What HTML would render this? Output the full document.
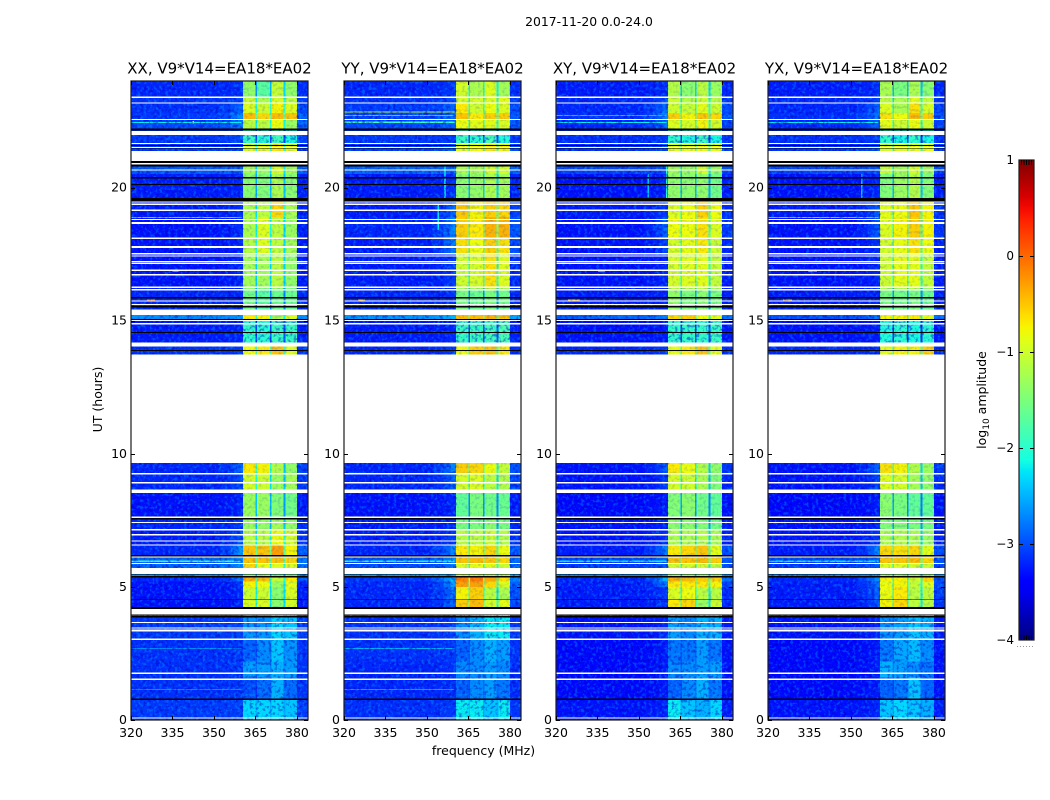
<!DOCTYPE html>
<html lang="en">
<head>
<meta charset="utf-8">
<title>2017-11-20 dynamic spectra</title>
<style>
html,body{margin:0;padding:0;background:#fff;width:1050px;height:800px;overflow:hidden}
svg{display:block}
text{font-family:"DejaVu Sans","Liberation Sans",sans-serif;fill:#000}
</style>
</head>
<body>
<svg id="chart" xmlns="http://www.w3.org/2000/svg" width="1050" height="800" viewBox="0 0 1050 800">
  <defs>
    <filter id="speckle-light" x="0" y="0" width="100%" height="100%" color-interpolation-filters="sRGB">
      <feTurbulence type="fractalNoise" baseFrequency="0.32" numOctaves="2" seed="4"/>
      <feColorMatrix type="matrix" values="0 0 0 0 0  0 0 0 0 0.72  0 0 0 0 1  5 0 0 0 -2.5"/>
    </filter>
    <filter id="speckle-dark" x="0" y="0" width="100%" height="100%" color-interpolation-filters="sRGB">
      <feTurbulence type="fractalNoise" baseFrequency="0.32" numOctaves="2" seed="11"/>
      <feColorMatrix type="matrix" values="0 0 0 0 0  0 0 0 0 0  0 0 0 0 0.72  5 0 0 0 -2.5"/>
    </filter>
    <linearGradient id="jet-gradient" x1="0" y1="1" x2="0" y2="0"></linearGradient>
  </defs>
  <text x="589" y="26" font-size="12.4" text-anchor="middle">2017-11-20 0.0-24.0</text>
  <g id="panels"></g>
  <text transform="translate(102,399.5) rotate(-90)" font-size="12.5" text-anchor="middle">UT (hours)</text>
  <text x="483.5" y="755" font-size="12.5" text-anchor="middle">frequency (MHz)</text>
  <g id="colorbar"></g>
  <text transform="translate(986,400) rotate(-90)" font-size="12.5" text-anchor="middle">log<tspan font-size="9" dy="3">10</tspan><tspan dy="-3"> amplitude</tspan></text>
  <line x1="1017" x2="1035" y1="646.5" y2="646.5" stroke="#9a9a9a" stroke-width="1" stroke-dasharray="1 2"></line>
</svg>
<script>
/* Categories */
const panelTitles = ["XX, V9*V14=EA18*EA02", "YY, V9*V14=EA18*EA02", "XY, V9*V14=EA18*EA02", "YX, V9*V14=EA18*EA02"];
const freqTicks = [320, 335, 350, 365, 380];
const timeTicks = [0, 5, 10, 15, 20];
const colorTicks = [1, 0, -1, -2, -3, -4];

/* Time bins in UT hours, bottom to top, each [start, end] */
const timeBins = [[0,0.8],[0.8,1.6],[1.6,2.2],[2.2,3.0],[3.0,3.97],[4.25,4.5],[4.5,5.0],[5.0,5.2],[5.2,5.4],[5.4,5.47],[5.7,5.87],[5.87,6.17],[6.17,6.6],[6.6,7.15],[7.15,7.55],[7.65,8.52],[8.66,9.25],[9.25,9.66],[13.72,14.02],[14.17,15.03],[15.03,15.22],[15.41,16.2],[16.2,17.5],[17.5,18.1],[18.1,18.9],[18.9,19.55],[19.55,20.5],[20.5,20.78],[21.37,21.65],[21.65,22.2],[22.2,22.55],[22.55,22.8],[22.8,23.17],[23.17,23.4],[23.4,24]];

/* Frequency segments in MHz */
const offBand = [320, 352];
const shoulderBand = [352, 356];
const rampLowBand = [356, 358.5];
const rampHighBand = [358.5, 360.5];
const subBands = [[360.5,365],[365.6,370.2],[370.8,375.1],[375.9,380]];
const gapBands = [[365,365.6],[370.2,370.8],[375.1,375.9]];
const upperBand = [380, 384];

/* log10 amplitude per time bin: [off-band, ramp, sub-band A, B, C, D] */
const levelsXX = [[-2.9,-2.85,-2.3,-2.3,-2.3,-2.4],[-2.95,-2.9,-3,-2.85,-2.5,-2.85],[-2.95,-2.9,-2.6,-2.6,-2.5,-2.6],[-2.95,-2.9,-2.9,-2.7,-2.4,-2.65],[-2.9,-2.85,-2.65,-2.65,-2.3,-2.4],[-3.1,-3,-.9,-.9,-1.4,-.95],[-3.1,-3,-1,-1,-1.4,-.9],[-3.1,-2.9,-.75,-.8,-1.3,-.85],[-3,-2.6,-.4,-.5,-1.05,-.7],[-2.45,-2.4,-1.5,-1.4,-1.7,-1.6],[-2.7,-2.5,-.6,-.8,-.9,-.9],[-2.7,-2.5,-.5,-.5,-.5,-.6],[-3,-2.45,-.5,-.5,-.3,-.75],[-3.05,-2.8,-1.1,-1.1,-.8,-.95],[-3,-2.9,-1.3,-1.35,-1.25,-1.35],[-3.1,-3,-1.3,-1.3,-1.45,-1.55],[-3,-2.8,-.95,-1,-1.3,-1.25],[-3,-2.7,-.7,-.75,-1.15,-1.35],[-2.95,-2.9,-.8,-.7,-.5,-.9],[-3.05,-3,-1.95,-2,-1.9,-1.9],[-2.5,-2.45,-.7,-.75,-1.2,-.9],[-3,-3,-1.55,-1.7,-1.6,-1.6],[-3.1,-3,-1.25,-1.25,-1.1,-1.35],[-3.1,-3,-1.15,-.9,-1.1,-1.25],[-3.1,-2.95,-1.2,-.9,-1.1,-1.3],[-3.05,-2.95,-1.2,-1.1,-.6,-1.2],[-3.05,-3,-1.4,-1.45,-1.2,-1.4],[-2.75,-2.7,-1.25,-1.3,-.95,-1.25],[-2.9,-2.9,-.95,-.9,-.7,-.9],[-2.9,-2.8,-1.9,-2,-1.85,-2.1],[-2.85,-2.6,-1.1,-1.1,-.8,-1.3],[-2.9,-2.5,-.45,-.6,-.45,-.5],[-2.95,-2.7,-.9,-1,-.75,-.9],[-2.95,-2.85,-1,-1.2,-.9,-1.1],[-3,-2.95,-1.35,-1.7,-1.05,-1.35]];
const levelsYY = [[-2.95,-2.9,-2.2,-2.2,-2.4,-2.2],[-3,-2.95,-2.9,-2.7,-2.6,-2.8],[-3,-2.95,-2.7,-2.7,-2.6,-2.7],[-2.95,-2.9,-2.9,-2.7,-2.5,-2.6],[-2.95,-2.85,-2.7,-2.5,-2.2,-2.2],[-3,-2.7,-.55,-.45,-.95,-.85],[-3,-2.6,-.75,-.55,-1.1,-1.2],[-3,-2.4,-.3,-.3,-.6,-.9],[-2.9,-2.2,-.15,-.1,-.35,-.65],[-2.4,-2.3,-1.1,-1.1,-1.2,-1.2],[-2.8,-2.6,-.9,-.85,-.85,-1],[-2.8,-2.5,-.5,-.45,-.5,-.6],[-3,-2.5,-.7,-.75,-.6,-.8],[-3.05,-2.9,-1.1,-1.1,-1,-1.15],[-3.05,-3,-1.5,-1.5,-1.4,-1.5],[-3.1,-3,-1.65,-1.5,-1.55,-1.6],[-3,-2.7,-.95,-.9,-1.1,-1.15],[-3,-2.55,-.55,-.6,-.8,-1.05],[-3,-2.9,-.8,-.55,-.5,-.7],[-3.05,-3,-1.9,-1.9,-1.85,-1.8],[-2.45,-2.3,-.45,-.45,-.4,-.5],[-3,-2.95,-1.5,-1.6,-1.5,-1.55],[-3.05,-2.9,-1,-.95,-.65,-.9],[-3.05,-2.55,-.65,-.8,-.55,-.65],[-3,-2.55,-.55,-.7,-.4,-.4],[-3.05,-2.7,-.5,-.75,-.55,-.6],[-3.05,-2.95,-1.4,-1.35,-1.2,-1.25],[-2.7,-2.7,-1.2,-1.2,-.95,-1],[-2.9,-2.7,-.9,-.8,-.7,-.75],[-2.9,-2.9,-1.9,-2,-1.8,-2.05],[-2.85,-2.7,-.8,-.85,-.85,-.9],[-2.85,-2.65,-.5,-.7,-.55,-.55],[-2.9,-2.7,-.7,-1,-.8,-.9],[-2.95,-2.8,-.95,-.95,-.9,-.85],[-3,-2.9,-.95,-1.2,-.9,-1.25]];
const levelsXY = [[-3.1,-3,-2.2,-2.4,-2.5,-2.3],[-3.15,-3.05,-2.9,-2.7,-2.5,-2.8],[-3.15,-3.05,-2.7,-2.7,-2.6,-2.6],[-3.15,-3.05,-2.8,-2.8,-2.6,-2.8],[-3.1,-3,-2.6,-2.7,-2.5,-2.5],[-3.05,-2.9,-.7,-.6,-1.3,-1],[-3.05,-2.9,-.9,-.8,-1.1,-1.1],[-3.05,-2.6,-.7,-.7,-.7,-.75],[-3,-2.3,-.4,-.45,-.55,-.55],[-2.5,-2.4,-1.4,-1.4,-1.4,-1.4],[-2.9,-2.7,-.95,-.95,-.95,-1.05],[-2.85,-2.65,-.5,-.5,-.45,-.55],[-3.05,-2.55,-.7,-.6,-.5,-.85],[-3.1,-2.95,-1.2,-1.2,-1.15,-1.2],[-3.1,-3,-1.4,-1.4,-1.45,-1.55],[-3.15,-3.05,-1.45,-1.4,-1.55,-1.65],[-3.1,-2.9,-.95,-1,-1.2,-1.45],[-3.1,-2.75,-.7,-.8,-1.15,-1.35],[-3,-2.9,-.85,-.7,-.5,-.85],[-3.1,-3.05,-1.95,-1.95,-1.95,-1.9],[-2.7,-2.55,-.6,-.55,-.8,-.85],[-3.05,-3,-1.35,-1.5,-1.4,-1.5],[-3.1,-3,-.95,-.9,-.85,-1.05],[-3.1,-2.85,-.95,-.85,-.7,-1],[-3.1,-2.7,-.8,-.8,-.65,-.9],[-3.05,-2.9,-.9,-.8,-.55,-.8],[-3.1,-3,-1.35,-1.4,-1.35,-1.55],[-2.85,-2.8,-1.25,-1.3,-.95,-1.3],[-2.95,-2.8,-.9,-.9,-.8,-.85],[-2.95,-2.9,-1.95,-2.05,-1.9,-2.1],[-3,-2.7,-.9,-.95,-.75,-.95],[-2.95,-2.55,-.55,-.75,-.5,-.6],[-3,-2.65,-1,-1.05,-.85,-1],[-3,-2.8,-1,-1.15,-1,-1.1],[-3.05,-2.95,-1.15,-1.4,-1.1,-1.3]];
const levelsYX = [[-3.1,-3,-2.4,-2.3,-2.4,-2.5],[-3.15,-3.05,-2.9,-2.8,-2.4,-2.9],[-3.15,-3.05,-2.5,-2.6,-2.7,-2.8],[-3.15,-3.05,-2.8,-2.55,-2.45,-2.7],[-3.1,-3,-2.7,-2.6,-2.4,-2.5],[-3.05,-2.8,-.75,-.6,-1.1,-1.1],[-3.05,-2.7,-.8,-.7,-1.1,-1.05],[-3.05,-2.6,-.8,-.75,-1.05,-.9],[-3,-2.5,-.75,-.75,-.95,-.6],[-2.5,-2.4,-1.4,-1.4,-1.4,-1.4],[-2.9,-2.75,-.9,-.9,-.95,-1],[-2.85,-2.7,-.5,-.5,-.45,-.6],[-3.05,-2.55,-.6,-.65,-.6,-.85],[-3.1,-2.95,-1.2,-1.15,-1.2,-1.3],[-3.1,-3,-1.45,-1.45,-1.5,-1.5],[-3.15,-3.05,-1.4,-1.5,-1.65,-1.65],[-3.1,-2.85,-.9,-.95,-1.25,-1.35],[-3.1,-2.7,-.65,-.75,-1.15,-1.3],[-3,-2.95,-.85,-.75,-.75,-.55],[-3.1,-3.05,-2.05,-2,-2.1,-2],[-2.8,-2.6,-.75,-.75,-.7,-.85],[-3.05,-3,-1.5,-1.55,-1.5,-1.6],[-3.1,-3,-1,-.85,-.85,-1.05],[-3.1,-2.95,-.95,-.85,-.65,-.8],[-3.1,-2.75,-.9,-.75,-.55,-.75],[-3.05,-2.75,-.85,-.8,-.5,-.75],[-3.1,-3,-1.45,-1.3,-1.15,-1.45],[-2.85,-2.8,-1.05,-1.25,-.95,-1.25],[-2.95,-2.8,-.95,-.9,-.85,-.85],[-2.95,-2.9,-1.95,-2.1,-1.95,-2.1],[-3,-2.75,-.85,-1,-.8,-1],[-2.95,-2.6,-.65,-.8,-.45,-.55],[-3,-2.7,-.9,-1.2,-.65,-.95],[-3,-2.85,-1.1,-1.2,-.85,-1.05],[-3.05,-2.95,-1.2,-1.5,-1.2,-1.4]];
const panelLevels = [levelsXX, levelsYY, levelsXY, levelsYX];

/* Off-band amplitude correction, in dex, from comparing against the reference colours */
const offBandCorrection = -0.2;

/* Interference features: [panel, freq start, freq end, time start, time end, log10 amplitude] */
const interference = [[0,320,360,2.67,2.71,-2.7],[0,320,360,1.13,1.17,-2.7],[1,320,360,2.67,2.71,-2.5],[1,320,360,1.13,1.17,-2.6],[0,325.8,328.7,15.73,15.8,-.1],[1,325,327.6,15.73,15.8,-.4],[2,324.3,328.7,15.73,15.8,-.5],[3,325.4,328.6,15.73,15.8,-.4],[0,335,337.5,16.84,16.9,-.8],[1,335.2,337.3,16.84,16.9,-1],[2,335.2,337.8,16.84,16.9,-.9],[3,334.5,337.8,16.84,16.9,-.9],[0,320,360,18.85,18.89,-2.2],[3,320,360,18.85,18.89,-2.2],[1,320,360,22.81,22.85,-1.1],[0,320,360,22.42,22.46,-2.2],[1,320,360,22.42,22.47,-1.9],[2,320,360,22.42,22.46,-2.2],[3,320,360,22.42,22.46,-2.2],[1,320,360,22.68,22.72,-2.2],[2,320,360,22.68,22.72,-2.4],[0,320,360,5.94,6,-1.9],[1,320,360,5.94,6,-2.1],[2,320,360,5.94,6,-2.2],[3,320,360,5.94,6,-2.2],[2,353,353.6,19.6,20.5,-2.4],[2,359.8,360.4,19.6,20.78,-2],[3,353.6,354.2,19.6,20.5,-2.4],[1,356.2,356.8,19.6,20.78,-2.4],[1,353.8,354.3,18.4,19.4,-2.2],[0,342.2,342.7,22.4,22.5,-1]];

/* Flagged (blank) and zero-amplitude (black) time ranges in UT hours */
const blankRanges = [[0.05,0.1],[1.5,1.55],[1.73,1.78],[3.01,3.06],[3.32,3.39],[3.43,3.48],[3.64,3.69],[3.97,4.16],[5.47,5.7],[5.85,5.9],[6.1,6.14],[6.56,6.6],[6.7,6.74],[6.93,6.98],[7.12,7.18],[7.39,7.44],[7.58,7.65],[8.52,8.66],[8.89,8.94],[9.23,9.28],[9.65,13.72],[14.02,14.17],[14.86,14.91],[14.98,15.02],[15.22,15.41],[15.58,15.62],[15.71,15.76],[16.14,16.18],[16.23,16.28],[16.7,16.75],[16.87,16.92],[17.12,17.17],[17.19,17.24],[17.4,17.45],[17.49,17.54],[17.72,17.8],[18.07,18.12],[18.62,18.7],[18.77,18.82],[19.12,19.17],[19.35,19.4],[19.44,19.49],[20.63,20.68],[20.87,20.92],[21,21.37],[21.49,21.53],[21.63,21.68],[21.98,22.13],[22.53,22.58],[23.15,23.2],[23.36,23.41]];
const zeroRanges = [[0.76,0.8],[4.16,4.25],[3.85,3.9],[3.95,3.97],[4.5,4.53],[5.36,5.4],[5.47,5.49],[6.15,6.19],[7.53,7.58],[13.85,13.89],[14.53,14.57],[15.02,15.06],[15.5,15.55],[15.84,15.88],[19.48,19.6],[20.1,20.14],[20.34,20.4],[20.78,20.87],[20.92,21],[21.46,21.49],[21.56,21.6],[22.14,22.22]];

/* Colour-bar range and jet colour-map knots */
const colorDomain = [-4, 1];
const jetRed = [[0,0],[0.35,0],[0.66,1],[0.89,1],[1,0.5]];
const jetGreen = [[0,0],[0.125,0],[0.375,1],[0.64,1],[0.91,0],[1,0]];
const jetBlue = [[0,0.5],[0.11,1],[0.34,1],[0.65,0],[1,0]];

const SVGNS = "http://www.w3.org/2000/svg";
const plotLefts = [131, 344, 556, 768];
const plotWidth = 177;
const plotTop = 81;
const plotBottom = 720;
const barLeft = 1019, barWidth = 15, barTop = 160, barBottom = 640;

function xScale(i, f) { return plotLefts[i] + (f - 320) / 64 * plotWidth; }
function yScale(t) { return plotBottom - t / 24 * (plotBottom - plotTop); }
function barScale(v) { return barBottom - (v - colorDomain[0]) / (colorDomain[1] - colorDomain[0]) * (barBottom - barTop); }
function knot(k, u) {
  for (let j = 1; j < k.length; j++) {
    if (u <= k[j][0]) return k[j-1][1] + (k[j][1] - k[j-1][1]) * (u - k[j-1][0]) / (k[j][0] - k[j-1][0]);
  }
  return k[k.length - 1][1];
}
function jet(v) {
  const u = Math.max(0, Math.min(1, (v - colorDomain[0]) / (colorDomain[1] - colorDomain[0])));
  return "rgb(" + Math.round(255 * knot(jetRed, u)) + "," + Math.round(255 * knot(jetGreen, u)) + "," + Math.round(255 * knot(jetBlue, u)) + ")";
}
function shape(parent, tag, props) {
  const n = document.createElementNS(SVGNS, tag);
  for (const k in props) n.setAttribute(k, props[k]);
  parent.appendChild(n);
  return n;
}
function box(parent, i, f0, f1, t0, t1, fill) {
  const x0 = xScale(i, f0), x1 = xScale(i, f1), y0 = yScale(t1), y1 = yScale(t0);
  return shape(parent, "rect", { x: x0, y: y0, width: x1 - x0, height: y1 - y0, fill: fill, "shape-rendering": "crispEdges" });
}
function hLine(parent, x1, x2, y) {
  return shape(parent, "line", { x1: x1, x2: x2, y1: y, y2: y, stroke: "#000", "stroke-width": 1 });
}
function vLine(parent, x, y1, y2) {
  return shape(parent, "line", { x1: x, x2: x, y1: y1, y2: y2, stroke: "#000", "stroke-width": 1 });
}
function label(parent, x, y, str, size, anchor) {
  const n = shape(parent, "text", { x: x, y: y, "font-size": size, "text-anchor": anchor });
  n.textContent = str;
  return n;
}
function grain(parent, i, f0, f1, t0, t1, opacity) {
  const light = box(parent, i, f0, f1, t0, t1, "#000");
  light.setAttribute("filter", "url(#speckle-light)");
  light.setAttribute("opacity", opacity * 0.8);
  
  
  const dark = box(parent, i, f0, f1, t0, t1, "#000");
  dark.setAttribute("filter", "url(#speckle-dark)");
  dark.setAttribute("opacity", opacity);
  
  
}

const panelsRoot = document.getElementById("panels");
panelTitles.forEach(function (title, i) {
  const g = shape(panelsRoot, "g", {});
  
  
  const levels = panelLevels[i];

  timeBins.forEach(function (bin, r) {
    const row = levels[r];
    const off = row[0] + offBandCorrection, ramp = row[1] + offBandCorrection;
    const segs = [
      [offBand[0], offBand[1], off],
      [shoulderBand[0], shoulderBand[1], off + (ramp - off) * 0.25],
      [rampLowBand[0], rampLowBand[1], off + (ramp - off) * 0.6],
      [rampHighBand[0], rampHighBand[1], ramp],
      [upperBand[0], upperBand[1], off + (ramp - off) * 0.5]
    ];
    subBands.forEach(function (b, k) { segs.push([b[0], b[1], row[2 + k]]); });
    gapBands.forEach(function (b, k) {
      const mean = (row[2 + k] + row[3 + k]) / 2;
      const drop = mean < -2.1 ? 0.2 : 1.1;
      segs.push([b[0], b[1], Math.max(off, mean - drop)]);
    });
    segs.forEach(function (s) {
      const cell = box(g, i, s[0], s[1], bin[0], bin[1], jet(s[2]));
      
      
    });
  });

  interference.filter(function (d) { return d[0] === i; }).forEach(function (d) {
    const rfi = box(g, i, d[1], d[2], d[3], d[4], jet(d[5]));
    
    
  });

  /* purely visual grain over the cells; carries no data values */
  grain(g, i, 320, 360.5, 0, 24, 0.42);
  grain(g, i, 380, 384, 0, 24, 0.42);
  grain(g, i, 360.5, 380, 0, 4, 0.42);
  grain(g, i, 360.5, 380, 4, 14.17, 0.12);
  grain(g, i, 360.5, 380, 14.17, 15.03, 0.42);
  grain(g, i, 360.5, 380, 15.03, 21.65, 0.12);
  grain(g, i, 360.5, 380, 21.65, 22.2, 0.42);
  grain(g, i, 360.5, 380, 22.2, 24, 0.12);

  blankRanges.forEach(function (d) {
    const blank = box(g, i, 320, 384, d[0], d[1], "#fff");
    
    
  });
  zeroRanges.forEach(function (d) {
    const zero = box(g, i, 320, 384, d[0], d[1], "#000");
    
    
  });

  const frame = shape(g, "rect", { x: plotLefts[i], y: plotTop, width: plotWidth, height: plotBottom - plotTop, fill: "none", stroke: "#1a1a1a", "stroke-width": 1.2 });
  
  

  freqTicks.forEach(function (f) {
    const x = Math.round(xScale(i, f)) + 0.5;
    const tb = vLine(g, x, plotBottom, plotBottom - 4);
    
    
    const tt = vLine(g, x, plotTop, plotTop + 4);
    
    
    const tl = label(g, xScale(i, f), 737, String(f), 12.5, "middle");
    
    
  });
  timeTicks.forEach(function (t) {
    const y = Math.round(yScale(t)) + 0.5;
    const tl = hLine(g, plotLefts[i], plotLefts[i] + 4, y);
    
    
    const tr = hLine(g, plotLefts[i] + plotWidth - 4, plotLefts[i] + plotWidth, y);
    
    
    const lb = label(g, plotLefts[i] - 4, yScale(t) + 4, String(t), 12.5, "end");
    
    
  });

  const ttl = label(g, plotLefts[i] + plotWidth / 2, 73.5, title, 15, "middle");
  
  
});

/* Colour bar */
const gradient = document.getElementById("jet-gradient");
for (let s = 0; s <= 40; s++) {
  shape(gradient, "stop", { offset: s / 40, "stop-color": jet(colorDomain[0] + (colorDomain[1] - colorDomain[0]) * s / 40) });
}
const barRoot = document.getElementById("colorbar");
const barFill = shape(barRoot, "rect", { x: barLeft, y: barTop, width: barWidth, height: barBottom - barTop, fill: "url(#jet-gradient)", stroke: "#1a1a1a", "stroke-width": 1.2 });


colorTicks.forEach(function (v) {
  const y = Math.round(barScale(v)) + 0.5;
  if (v !== colorDomain[0] && v !== colorDomain[1]) {
    const a = hLine(barRoot, barLeft, barLeft + 4, y);
    
    
    const b = hLine(barRoot, barLeft + barWidth - 4, barLeft + barWidth, y);
    
    
  }
  const txt = label(barRoot, 1014, barScale(v) + 4, String(v).replace("-", "\u2212"), 12, "end");
  
  
});
for (let k = 0; k < 5; k++) {
  const x = barLeft + 2.5 + k * 2.5;
  const top = vLine(barRoot, x, barTop, barTop + 5);
  
  
  const bottom = vLine(barRoot, x, barBottom - 5, barBottom);
  
  
}
</script>
</body>
</html>
